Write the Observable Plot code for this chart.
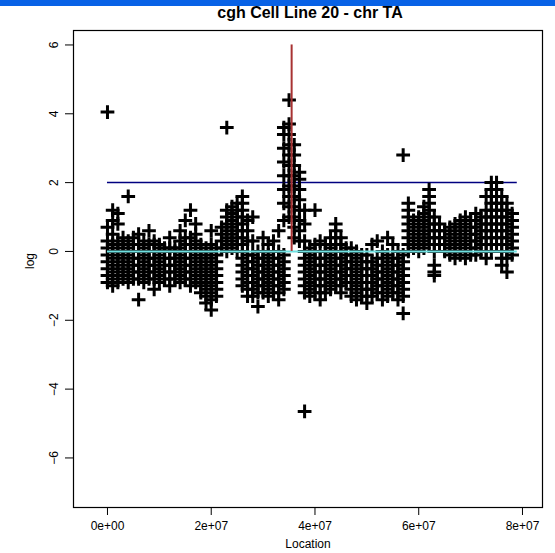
<!DOCTYPE html>
<html><head><meta charset="utf-8">
<script src="https://cdn.jsdelivr.net/npm/d3@7"></script>
<script src="https://cdn.jsdelivr.net/npm/@observablehq/plot@0.6"></script>
<style>
body{margin:0;background:#fff;font-family:"Liberation Sans",Arial,sans-serif;}
#bar{height:6px;background:#0862e6;}
#wrap{position:relative;width:555px;}
#title{position:absolute;left:0;width:620px;text-align:center;top:-2px;font-weight:bold;font-size:16px;z-index:2;font-family:"Liberation Sans Narrow","Liberation Sans",Arial,sans-serif;}
</style></head><body>
<div id="bar"></div>
<div id="wrap"><div id="title">cgh Cell Line 20 - chr TA</div><div id="chart"></div></div>
<script>
// x in units of 1e6 bp : list of log values observed in that column
const columns = [
"0:-0.9,-0.7,-0.5,-0.3,-0.1,0.1,0.3,0.7,4.05",
"1:-1.0,-0.8,-0.6,-0.4,-0.2,0,0.2,0.5,0.9,1.2",
"2:-0.9,-0.7,-0.5,-0.3,-0.1,0.1,0.3,0.8,1.1",
"3:-0.8,-0.6,-0.4,-0.2,0,0.2,0.4",
"4:-0.9,-0.7,-0.5,-0.3,-0.1,0.1,0.3,1.6",
"5:-0.8,-0.6,-0.4,-0.2,0,0.2,0.4",
"6:-1.4,-0.8,-0.6,-0.4,-0.2,0,0.2,0.5",
"7:-0.9,-0.7,-0.5,-0.3,-0.1,0.1,0.3",
"8:-0.8,-0.6,-0.4,-0.2,0,0.2,0.6",
"9:-1.1,-0.8,-0.6,-0.4,-0.2,0,0.2,0.3",
"10:-0.9,-0.7,-0.5,-0.3,-0.1,0.1,0.2",
"11:-0.8,-0.6,-0.4,-0.2,0,0.1",
"12:-1.0,-0.8,-0.6,-0.4,-0.2,0,0.1,0.4",
"13:-0.8,-0.6,-0.4,-0.2,0,0.1",
"14:-0.9,-0.7,-0.5,-0.3,-0.1,0.1,0.3,0.6",
"15:-0.8,-0.6,-0.4,-0.2,0,0.2,0.4,0.9",
"16:-1.0,-0.8,-0.6,-0.4,-0.2,0,0.2,0.4,1.2",
"17:-0.9,-0.7,-0.5,-0.3,-0.1,0.1,0.3,0.5,0.8",
"18:-1.2,-1.0,-0.8,-0.6,-0.4,-0.2,0,0.2",
"19:-1.5,-1.3,-1.1,-0.9,-0.7,-0.5,-0.3,-0.1,0.1",
"20:-1.7,-1.4,-1.2,-1.0,-0.8,-0.6,-0.4,-0.2,0,0.2,0.6",
"21:-1.3,-1.1,-0.9,-0.7,-0.5,-0.3,-0.1,0.1",
"22:0.1,0.3,0.5,0.7",
"23:0,0.2,0.4,0.6,0.8,1.0,1.2,3.6",
"24:0.1,0.3,0.5,0.7,0.9,1.1,1.3",
"25:0,0.2,0.4,0.6,0.8,1.0,1.2,1.4",
"26:-1.0,-0.8,-0.6,-0.4,-0.2,0,0.2,0.4,0.6,0.8,1.0,1.2,1.4,1.6",
"27:-1.3,-1.1,-0.9,-0.7,-0.5,-0.3,-0.1,0.3,0.6,0.9",
"28:-1.3,-1.1,-0.9,-0.7,-0.5,-0.3,-0.1,0.3,1.0",
"29:-1.6,-1.2,-1.0,-0.8,-0.6,-0.4,-0.2,0",
"30:-1.2,-1.0,-0.8,-0.6,-0.4,-0.2,0,0.4",
"31:-1.3,-1.1,-0.9,-0.7,-0.5,-0.3,-0.1,0.2",
"32:-1.2,-1.0,-0.8,-0.6,-0.4,-0.2,0,0.3",
"33:-1.4,-1.2,-1.0,-0.8,-0.6,-0.4,-0.2,0,0.6",
"34:-1.1,-0.9,-0.7,-0.5,-0.3,-0.1,0.9,1.4,1.8,2.2,2.6,3.0,3.4,3.6",
"35:1.0,1.3,1.6,1.9,2.2,2.5,2.8,3.1,3.4,3.7,4.4",
"36:0.4,0.7,1.0,1.3,1.6,1.9,2.2,2.5,2.8,3.1",
"37:0.3,0.6,0.9,1.2,1.5,1.8,2.1,2.3",
"38:-1.2,-1.0,-0.8,-0.6,-0.4,-0.2,0,0.3,0.8,1.2,-4.65",
"39:-1.3,-1.1,-0.9,-0.7,-0.5,-0.3,-0.1,0.1",
"40:-1.2,-1.0,-0.8,-0.6,-0.4,-0.2,0,0.2,1.2",
"41:-1.4,-1.2,-1.0,-0.8,-0.6,-0.4,-0.2,0,0.3",
"42:-1.2,-1.0,-0.8,-0.6,-0.4,-0.2,0,0.2",
"43:-1.1,-0.9,-0.7,-0.5,-0.3,-0.1,0.1,0.4",
"44:-1.0,-0.8,-0.6,-0.4,-0.2,0,0.2,0.4,0.6,0.8",
"45:-1.2,-1.0,-0.8,-0.6,-0.4,-0.2,0,0.2,0.4",
"46:-0.9,-0.7,-0.5,-0.3,-0.1,0.1",
"47:-1.3,-1.1,-0.9,-0.7,-0.5,-0.3,-0.1,0.1",
"48:-1.4,-1.2,-1.0,-0.8,-0.6,-0.4,-0.2,0",
"49:-1.3,-1.1,-0.9,-0.7,-0.5,-0.3,-0.1",
"50:-1.5,-1.3,-1.1,-0.9,-0.7,-0.5,-0.3,-0.1",
"51:-1.3,-1.1,-0.9,-0.7,-0.5,-0.3,0.2",
"52:-1.2,-1.0,-0.8,-0.6,-0.4,-0.2,0.3",
"53:-1.4,-1.2,-1.0,-0.8,-0.6,-0.4,-0.2,0",
"54:-1.3,-1.1,-0.9,-0.7,-0.5,-0.3,-0.1,0.4",
"55:-1.2,-1.0,-0.8,-0.6,-0.4,-0.2,0.2",
"56:-1.4,-1.2,-1.0,-0.8,-0.6,-0.4,-0.2,0",
"57:-1.8,-1.3,-1.1,-0.9,-0.7,-0.5,-0.3,-0.1,2.8",
"58:0,0.2,0.4,0.6,0.8,1.0,1.2,1.4",
"59:0.1,0.3,0.5,0.7,0.9",
"60:0,0.2,0.4,0.6,0.8,1.0",
"61:0.1,0.3,0.5,0.7,0.9,1.1,1.3",
"62:0.2,0.4,0.6,0.8,1.0,1.2,1.4,1.6,1.8",
"63:0,0.2,0.4,0.6,0.8,1.0,-0.4,-0.6,-0.7",
"64:0.2,0.4,0.6,0.8",
"65:0,0.2,0.4,0.6",
"66:-0.1,0.1,0.3,0.5,0.7",
"67:-0.2,0,0.2,0.4,0.6,0.8",
"68:-0.1,0.1,0.3,0.5,0.7,0.9",
"69:-0.2,0,0.2,0.4,0.6,0.8,1.0",
"70:-0.1,0.1,0.3,0.5,0.7,0.9",
"71:-0.1,0.1,0.3,0.5,0.7,0.9,1.1",
"72:0,0.2,0.4,0.6,0.8,1.0",
"73:-0.2,0,0.2,0.4,0.6,0.8,1.0,1.2,1.6",
"74:0,0.2,0.4,0.6,0.8,1.0,1.2,1.4,1.6,1.8,2.0",
"75:0.2,0.4,0.6,0.8,1.0,1.2,1.4,1.6,1.8,2.0",
"76:-0.4,-0.2,0,0.2,0.4,0.6,0.8,1.0,1.2,1.4,1.6",
"77:-0.6,-0.2,0,0.2,0.4,0.6,0.8,1.0,1.2,1.4",
"78:-0.1,0.1,0.3,0.5,0.7,0.9,1.1"
];
const xTicks = [0, 20, 40, 60, 80];
const xTickLabels = ["0e+00", "2e+07", "4e+07", "6e+07", "8e+07"];
const yTicks = [-6, -4, -2, 0, 2, 4, 6];
const upperLine = 2, baseLine = 0;
const peakLocation = 35.5, peakTop = 6;

const points = [];
for (const c of columns) {
  const [x, ys] = c.split(":");
  for (const y of ys.split(",")) points.push({x: +x, y: +y});
}

const chart = Plot.plot({
  width: 555, height: 547,
  marginLeft: 73, marginRight: 13, marginTop: 24, marginBottom: 46,
  style: {fontFamily: "Liberation Sans, Arial, sans-serif", fontSize: "12px", color: "#000"},
  x: {domain: [-6.55, 83.86]},
  y: {domain: [-7.44, 6.42]},
  marks: [
    Plot.frame({stroke: "#000", strokeWidth: 1.2}),
    Plot.ruleY([upperLine], {x1: 0, x2: 79, stroke: "#000080", strokeWidth: 1.5}),
    Plot.dot(points, {x: "x", y: "y", symbol: "plus", r: 4.5, stroke: "#000", strokeWidth: 3}),
    Plot.ruleY([baseLine], {x1: 0, x2: 79, stroke: "#6ee0e0", strokeWidth: 2}),
    Plot.ruleX([peakLocation], {y1: 0, y2: peakTop, stroke: "#a83232", strokeWidth: 2}),
    Plot.axisX(xTicks, {tickFormat: (d, i) => xTickLabels[i], tickSize: 8, tickPadding: 6, label: null, fontSize: 12}),
    Plot.axisY(yTicks, {tickRotate: -90, tickSize: 8, tickPadding: 8, label: null, fontSize: 12}),
    Plot.text(["Location"], {frameAnchor: "bottom", dy: 40, fontSize: 12}),
    Plot.text(["log"], {frameAnchor: "left", dx: -43, rotate: -90, fontSize: 12})
  ]
});
document.getElementById("chart").append(chart);
</script>
</body></html>
